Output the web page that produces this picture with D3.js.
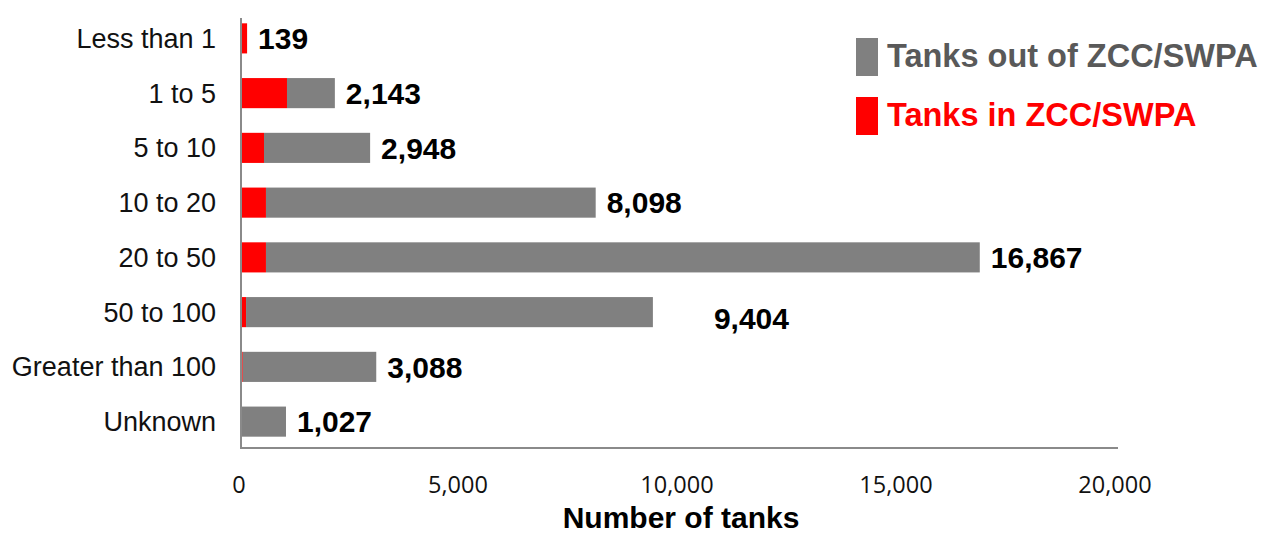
<!DOCTYPE html>
<html>
<head>
<meta charset="utf-8">
<script src="https://cdn.jsdelivr.net/npm/d3@7"></script>
<style>
  html, body { margin: 0; padding: 0; background: #fff; }
  svg { display: block; }
</style>
</head>
<body>
<svg id="chart" width="1268" height="534"></svg>
<script>
// Tank counts by capacity band
const categories = ["Less than 1", "1 to 5", "5 to 10", "10 to 20", "20 to 50", "50 to 100", "Greater than 100", "Unknown"];
const totalTanks = [139, 2143, 2948, 8098, 16867, 9404, 3088, 1027];
const tanksInZone = [139, 1050, 525, 570, 570, 115, 40, 20];
const tickValues = [0, 5000, 10000, 15000, 20000];
const seriesNames = ["Tanks out of ZCC/SWPA", "Tanks in ZCC/SWPA"];

const rows = categories.map((c, i) => ({
  category: c,
  inZone: tanksInZone[i],
  outZone: totalTanks[i] - tanksInZone[i],
  total: totalTanks[i]
}));

const svg = d3.select("#chart");
const font = "'Liberation Sans', Arial, sans-serif";

const x = d3.scaleLinear().domain([0, 20000]).range([241, 1117]);
const y = d3.scaleBand().domain(categories).range([11, 449]).paddingInner(0.45).paddingOuter(0.225);

const stack = d3.stack().keys(["inZone", "outZone"]);
const layers = stack(rows);
const colors = { inZone: "#ff0000", outZone: "#808080" };

// Stacked bars
svg.append("g").selectAll("g")
  .data(layers)
  .join("g")
  .attr("fill", d => colors[d.key])
  .selectAll("rect")
  .data(d => d)
  .join("rect")
  .attr("x", d => x(d[0]))
  .attr("y", d => y(d.data.category))
  .attr("width", d => Math.max(0, x(d[1]) - x(d[0])))
  .attr("height", y.bandwidth());

// Axis lines
svg.append("line").attr("x1", 241).attr("x2", 241).attr("y1", 18).attr("y2", 449)
  .attr("stroke", "#8a8a8a").attr("stroke-width", 2);
svg.append("line").attr("x1", 240).attr("x2", 1118).attr("y1", 448).attr("y2", 448)
  .attr("stroke", "#8a8a8a").attr("stroke-width", 2);

// Category labels
svg.append("g").selectAll("text")
  .data(categories)
  .join("text")
  .attr("x", 216)
  .attr("y", d => y(d) + y.bandwidth() / 2)
  .attr("dy", "0.35em")
  .attr("text-anchor", "end")
  .attr("font-family", font)
  .attr("font-size", 27)
  .attr("fill", "#111")
  .text(d => d);

// X tick labels
const fmt = d3.format(",");
svg.append("g").selectAll("text")
  .data(tickValues)
  .join("text")
  .attr("x", d => x(d) - 2)
  .attr("y", 493)
  .attr("text-anchor", "middle")
  .attr("font-family", "'Open Sans', sans-serif")
  .attr("font-size", 23.5)
  .attr("fill", "#111")
  .text(d => fmt(d));

// Axis title
svg.append("text")
  .attr("x", 681)
  .attr("y", 528)
  .attr("text-anchor", "middle")
  .attr("font-family", font)
  .attr("font-weight", "bold")
  .attr("font-size", 30)
  .attr("fill", "#000")
  .text("Number of tanks");

// Value labels at bar ends
const labelNudge = { "50 to 100": [50, 6] };
svg.append("g").selectAll("text")
  .data(rows)
  .join("text")
  .attr("x", d => x(d.total) + 11 + (labelNudge[d.category] ? labelNudge[d.category][0] : 0))
  .attr("y", d => y(d.category) + y.bandwidth() / 2 + (labelNudge[d.category] ? labelNudge[d.category][1] : 0))
  .attr("dy", "0.36em")
  .attr("font-family", font)
  .attr("font-weight", "bold")
  .attr("font-size", 30)
  .attr("fill", "#000")
  .text(d => fmt(d.total));

// Legend
const legend = svg.append("g");
const legendItems = [
  { name: seriesNames[0], color: "#808080", text: "#595959", y: 38 },
  { name: seriesNames[1], color: "#ff0000", text: "#ff0000", y: 97 }
];
legend.selectAll("rect")
  .data(legendItems)
  .join("rect")
  .attr("x", 856).attr("y", d => d.y)
  .attr("width", 22).attr("height", 38)
  .attr("fill", d => d.color);
legend.selectAll("text")
  .data(legendItems)
  .join("text")
  .attr("x", 887).attr("y", d => d.y + 29)
  .attr("font-family", font)
  .attr("font-weight", "bold")
  .attr("font-size", 32.5)
  .attr("fill", d => d.text)
  .text(d => d.name);
</script>
</body>
</html>
